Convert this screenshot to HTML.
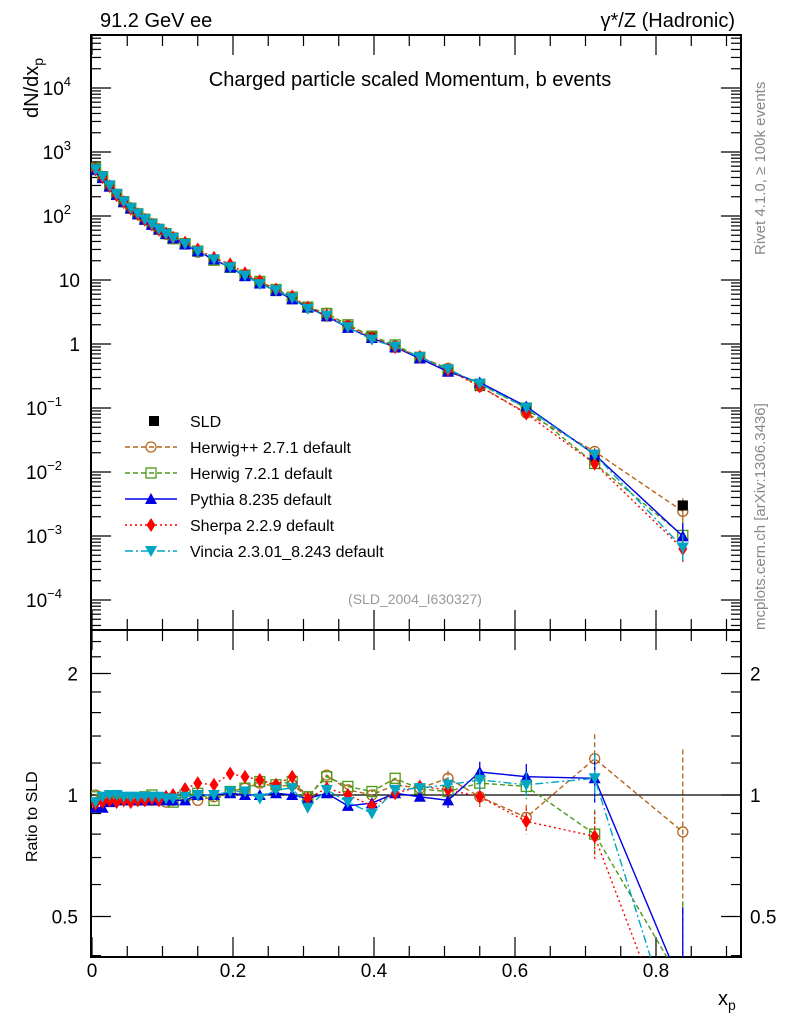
<!DOCTYPE html>
<html><head><meta charset="utf-8"><style>
html,body{margin:0;padding:0;background:#fff;width:786px;height:1024px;overflow:hidden}
svg{display:block;font-family:"Liberation Sans",sans-serif}
</style></head><body>
<svg id="chart" width="786" height="1024" viewBox="0 0 786 1024" xmlns="http://www.w3.org/2000/svg">
<defs>
<clipPath id="clipTop"><rect x="91" y="35" width="650" height="595"/></clipPath>
<clipPath id="clipBot"><rect x="91" y="630" width="650" height="327"/></clipPath>
</defs>
<rect width="786" height="1024" fill="#fff"/>
<text x="100" y="27" font-size="20">91.2 GeV ee</text>
<text x="735" y="27" font-size="20" text-anchor="end">γ*/Z (Hadronic)</text>
<text x="410" y="86" font-size="20" text-anchor="middle">Charged particle scaled Momentum, b events</text>
<text x="415" y="604" font-size="14" fill="#999" text-anchor="middle">(SLD_2004_I630327)</text>
<text transform="translate(765,255) rotate(-90)" font-size="15" fill="#888">Rivet 4.1.0, ≥ 100k events</text>
<text transform="translate(765,630) rotate(-90)" font-size="15" fill="#888">mcplots.cern.ch [arXiv:1306.3436]</text>
<text transform="translate(38,118) rotate(-90)" font-size="20">dN/dx<tspan font-size="14" dy="5">p</tspan></text>
<text transform="translate(37,862) rotate(-90)" font-size="16">Ratio to SLD</text>
<text x="718" y="1005" font-size="20">x<tspan font-size="14" dy="5">p</tspan></text>
<g id="axes"></g>
<g id="top" clip-path="url(#clipTop)"></g>
<g id="bot" clip-path="url(#clipBot)"></g>
<g id="legend"></g>
</svg>
<script>
const xs=[0.005,0.015,0.025,0.035,0.045,0.055,0.065,0.075,0.085,0.095,0.105,0.115,0.132,0.15,0.173,0.196,0.217,0.238,0.261,0.284,0.306,0.333,0.363,0.397,0.43,0.465,0.505,0.55,0.616,0.713,0.838];
const sld=[560,420,300,220,170,135,110,90,75,63,54,46,37,28,21,15.5,11.5,8.8,6.7,5.0,3.8,2.7,1.9,1.3,0.88,0.6,0.38,0.22,0.095,0.017,0.003];
const rHerwigpp=[1.0,0.98,0.97,0.97,0.98,0.97,0.97,0.97,0.97,0.97,0.96,0.97,0.98,0.97,0.99,1.02,1.04,1.07,1.05,1.06,0.99,1.12,1.03,1.0,1.06,1.04,1.10,0.99,0.88,1.23,0.81];
const rHerwig7=[0.99,0.98,0.98,0.99,0.98,0.98,0.98,0.99,1.0,0.98,0.98,0.96,1.0,1.01,0.97,1.02,1.04,1.08,1.06,1.08,0.99,1.11,1.05,1.02,1.10,1.035,1.02,1.07,1.05,0.80,0.34];
const rPythia=[0.93,0.93,0.96,0.97,0.97,0.97,0.97,0.97,0.97,0.98,0.97,0.97,0.97,1.0,1.0,1.01,1.0,1.0,1.01,1.0,0.98,1.01,0.94,0.955,1.01,0.99,0.97,1.14,1.11,1.10,0.33];
const rSherpa=[0.95,0.96,0.97,0.96,0.97,0.96,0.97,0.97,0.98,0.97,0.99,1.0,1.035,1.07,1.06,1.13,1.11,1.09,1.06,1.11,0.98,1.04,1.0,0.94,1.01,1.05,1.03,0.99,0.86,0.79,0.21];
const rVincia=[0.96,0.99,1.0,1.0,0.99,0.99,0.99,0.99,0.99,0.99,0.98,0.98,0.99,1.0,1.0,1.02,1.02,0.98,1.03,1.04,0.93,1.03,0.96,0.90,1.03,1.04,1.06,1.09,1.06,1.10,0.22];
const relErr=[0.01,0.01,0.01,0.01,0.01,0.01,0.01,0.01,0.01,0.01,0.01,0.01,0.01,0.01,0.01,0.01,0.01,0.01,0.01,0.01,0.01,0.015,0.015,0.02,0.03,0.03,0.03,0.04,0.05,0.1,0.4];
const yTickLabels=[["10","4"],["10","3"],["10","2"],["10",""],["1",""],["10","−1"],["10","−2"],["10","−3"],["10","−4"]];
const xTickLabels=["0","0.2","0.4","0.6","0.8"];
const ratioTickLabels=["0.5","1","2"];

const NS="http://www.w3.org/2000/svg";
const X=v=>92+v*705;
const Y=v=>88+(4-Math.log10(v))*64;
const R=v=>795-Math.log2(v)*121.5;
function el(tag,attrs,parent){const e=document.createElementNS(NS,tag);for(const k in attrs)e.setAttribute(k,attrs[k]);parent.appendChild(e);return e;}
const axes=document.getElementById('axes'),top_=document.getElementById('top'),bot=document.getElementById('bot'),leg=document.getElementById('legend');

let f1=el('rect',{x:91,y:35,width:650,height:595,fill:'none',stroke:'#000','stroke-width':2},axes);


let f2=el('rect',{x:91,y:630,width:650,height:327,fill:'none',stroke:'#000','stroke-width':2},axes);



for(let i=0;i<=18;i++){const v=i*0.05;const px=X(v);if(px>741)break;const major=(i%4===0);const L=major?20:11;
 [[35,1],[630,-1],[630,1],[957,-1]].forEach(([y0,d])=>{el('line',{x1:px,x2:px,y1:y0,y2:y0+d*L,stroke:'#000','stroke-width':1.2},axes);});}
xTickLabels.forEach((t,i)=>{const tx=el('text',{x:X(i*0.2),y:977,'font-size':19,'text-anchor':'middle'},axes);tx.textContent=t;
 
 });

for(let d=-5;d<=4;d++){for(let m=1;m<10;m++){const v=m*Math.pow(10,d);const py=Y(v);if(py<35||py>630)continue;const L=m===1?20:10;
 el('line',{x1:91,x2:91+L,y1:py,y2:py,stroke:'#000','stroke-width':1.2},axes);el('line',{x1:741,x2:741-L,y1:py,y2:py,stroke:'#000','stroke-width':1.2},axes);}}
yTickLabels.forEach((t,i)=>{const py=Y(Math.pow(10,4-i));const tx=el('text',{x:80,y:py+7,'font-size':19,'text-anchor':'end'},axes);
 
 
 tx.textContent=t[0];if(t[1]){tx.setAttribute('x',80-(t[1].length*9));const s=el('tspan',{dy:-9,'font-size':13},tx);s.textContent=t[1];}});

[0.4,0.5,0.6,0.7,0.8,0.9,1,1.2,1.4,1.6,1.8,2,2.2,2.4].forEach(v=>{const py=R(v);const major=(v===0.5||v===1||v===2);const L=major?20:10;
 el('line',{x1:91,x2:91+L,y1:py,y2:py,stroke:'#000','stroke-width':1.2},axes);el('line',{x1:741,x2:741-L,y1:py,y2:py,stroke:'#000','stroke-width':1.2},axes);});
ratioTickLabels.forEach(t=>{const py=R(parseFloat(t))+7;
 const a=el('text',{x:78,y:py,'font-size':19,'text-anchor':'end'},axes);a.textContent=t;
 
 
 const b=el('text',{x:750,y:py,'font-size':19},axes);b.textContent=t;
 
 });
let ref=el('line',{x1:91,x2:741,y1:R(1),y2:R(1),stroke:'#000','stroke-width':1.2},bot);



function marker(g,type,color,cx,cy){
 if(type==='sq')return el('rect',{x:cx-5,y:cy-5,width:10,height:10,fill:'#000'},g);
 if(type==='circ')return el('circle',{cx:cx,cy:cy,r:5,fill:'none',stroke:color,'stroke-width':1.3},g);
 if(type==='osq')return el('rect',{x:cx-5,y:cy-5,width:10,height:10,fill:'none',stroke:color,'stroke-width':1.3},g);
 if(type==='tri')return el('polygon',{points:`${cx},${cy-6} ${cx+6},${cy+5} ${cx-6},${cy+5}`,fill:color},g);
 if(type==='dia')return el('polygon',{points:`${cx},${cy-7} ${cx+4.5},${cy} ${cx},${cy+7} ${cx-4.5},${cy}`,fill:color},g);
 if(type==='tdn')return el('polygon',{points:`${cx-6},${cy-5} ${cx+6},${cy-5} ${cx},${cy+6}`,fill:color},g);
}
// SLD data drawn first (underneath MC)
const gd=el('g',{},top_);


xs.forEach((x,i)=>{const m=marker(gd,'sq','#000',X(x),Y(sld[i]));
 
 });

const series=[
 {name:'herwigpp',label:'Herwig++ 2.7.1 default',r:rHerwigpp,color:'#b5651d',m:'circ',dash:'5,3'},
 {name:'herwig7',label:'Herwig 7.2.1 default',r:rHerwig7,color:'#4c9a1a',m:'osq',dash:'5,3'},
 {name:'pythia',label:'Pythia 8.235 default',r:rPythia,color:'#0000e6',m:'tri',dash:''},
 {name:'sherpa',label:'Sherpa 2.2.9 default',r:rSherpa,color:'#ff0000',m:'dia',dash:'2,3'},
 {name:'vincia',label:'Vincia 2.3.01_8.243 default',r:rVincia,color:'#00a5c5',m:'tdn',dash:'8,3,2,3'}
];
series.forEach(s=>{
 const gt=el('g',{},top_);
 
 
 const gb=el('g',{},bot);
 
 
 const ptsT=xs.map((x,i)=>X(x)+','+Y(sld[i]*s.r[i])).join(' ');
 const ptsB=xs.map((x,i)=>X(x)+','+R(s.r[i])).join(' ');
 const lt=el('polyline',{points:ptsT,fill:'none',stroke:s.color,'stroke-width':1.4},gt);if(s.dash)lt.setAttribute('stroke-dasharray',s.dash);
 const lb=el('polyline',{points:ptsB,fill:'none',stroke:s.color,'stroke-width':1.4},gb);if(s.dash)lb.setAttribute('stroke-dasharray',s.dash);
 xs.forEach((x,i)=>{const e=relErr[i]*1.5;
  if(i>=26){el('line',{x1:X(x),x2:X(x),y1:R(s.r[i]*(1+e)),y2:R(s.r[i]/(1+e)),stroke:s.color,'stroke-width':1.3,'stroke-dasharray':s.dash||'none'},gb);
   el('line',{x1:X(x),x2:X(x),y1:Y(sld[i]*s.r[i]*(1+e)),y2:Y(sld[i]*s.r[i]/(1+e)),stroke:s.color,'stroke-width':1.3},gt);}
  const mt=marker(gt,s.m,s.color,X(x),Y(sld[i]*s.r[i]));
  
  
  const mb=marker(gb,s.m,s.color,X(x),R(s.r[i]));
  
  
 });
});
// last SLD point stays visible on top (as in reference)
const lastIdx=xs.length-1;
const ml=marker(top_,'sq','#000',X(xs[lastIdx]),Y(sld[lastIdx]));



const lx=148,ly0=421;
let e0=marker(leg,'sq','#000',lx+6,ly0);


let t0=el('text',{x:190,y:ly0+6,'font-size':16},leg);t0.textContent='SLD';


series.forEach((s,k)=>{const y=ly0+26*(k+1);
 const l=el('line',{x1:125,x2:177,y1:y,y2:y,stroke:s.color,'stroke-width':1.4},leg);if(s.dash)l.setAttribute('stroke-dasharray',s.dash);
 const m=marker(leg,s.m,s.color,151,y);
 
 
 const t=el('text',{x:190,y:y+6,'font-size':16},leg);t.textContent=s.label;
 
 });
</script>
</body></html>
